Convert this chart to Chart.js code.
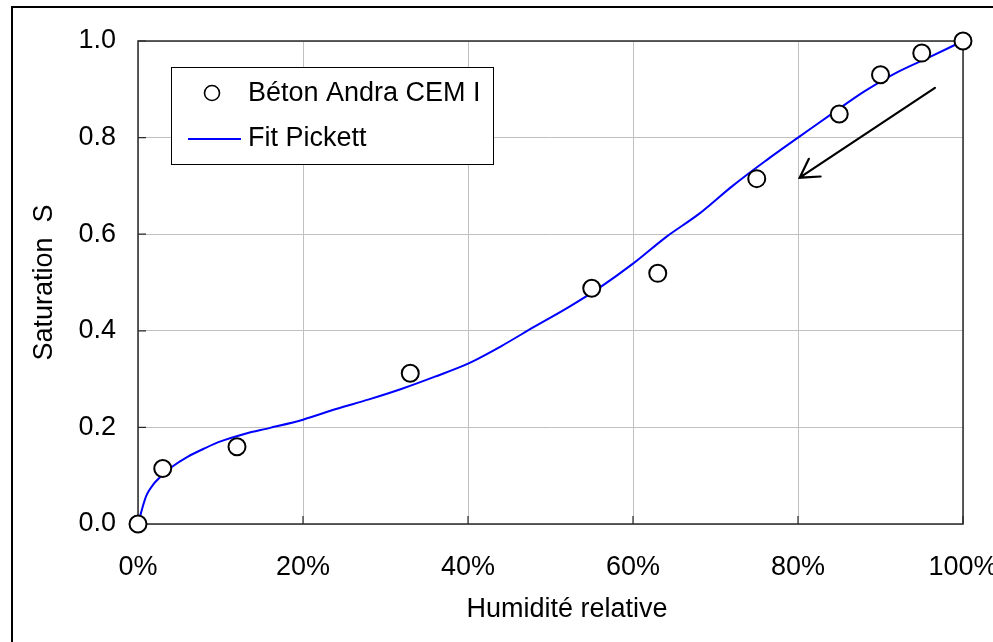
<!DOCTYPE html>
<html>
<head>
<meta charset="utf-8">
<script src="https://cdn.jsdelivr.net/npm/chart.js@4"></script>
<style>
  html, body { margin: 0; padding: 0; background: #fff; }
  canvas { display: block; }
</style>
</head>
<body>
<canvas id="chart" width="993" height="642"></canvas>
<script>
// Measured desorption isotherm (relative humidity in %, saturation degree)
const measuredRH = [0, 3, 12, 33, 55, 63, 75, 85, 90, 95, 100];
const measuredS  = [0, 0.115, 0.16, 0.312, 0.488, 0.519, 0.715, 0.849, 0.93, 0.975, 1.0];

// Pickett model fitted curve
const fitRH = [0, 1, 2, 3, 4, 6, 8, 10, 13, 16, 20, 24, 28, 32, 36, 40, 44, 48, 52, 56, 60, 64, 68, 72, 76, 80, 84, 88, 92, 96, 100];
const fitS  = [0, 0.058, 0.085, 0.102, 0.117, 0.139, 0.156, 0.171, 0.187, 0.199, 0.216, 0.238, 0.258, 0.28, 0.305, 0.332, 0.368, 0.408, 0.447, 0.49, 0.539, 0.594, 0.642, 0.699, 0.751, 0.80, 0.848, 0.895, 0.935, 0.967, 1.0];

// Axis ticks and titles
const xTicks = [0, 20, 40, 60, 80, 100];
const yTicks = [0, 0.2, 0.4, 0.6, 0.8, 1.0];
const xTitle = 'Humidité relative';
const yTitle = 'Saturation  S';

// Desorption direction arrow (from -> to, in data units)
const arrowFrom = [96.6, 0.903];
const arrowTo   = [80.2, 0.717];

const FONT = 'Liberation Sans, Arial, sans-serif';
const FSIZE = 27;
const TXT = '#000';

const pairs = (xs, ys) => xs.map((x, i) => ({ x: x, y: ys[i] }));

// Outer border of the figure
const outerFrame = {
  id: 'outerFrame',
  beforeDraw(chart) {
    const ctx = chart.ctx;
    ctx.save();
    ctx.strokeStyle = '#000';
    ctx.lineWidth = 2;
    ctx.beginPath();
    ctx.moveTo(12, chart.height + 2);
    ctx.lineTo(12, 7);
    ctx.lineTo(chart.width + 2, 7);
    ctx.stroke();
    ctx.restore();
  }
};

// Plot-area frame with inward tick marks, and the x-axis title
const plotFrame = {
  id: 'plotFrame',
  beforeDatasetsDraw(chart) {
    const { ctx, chartArea: a, scales } = chart;
    ctx.save();
    ctx.strokeStyle = '#2a2a2a';
    ctx.lineWidth = 1.5;
    ctx.strokeRect(a.left, a.top, a.right - a.left, a.bottom - a.top);
    ctx.lineWidth = 1.2;
    ctx.beginPath();
    xTicks.forEach(v => {
      const px = scales.x.getPixelForValue(v);
      ctx.moveTo(px, a.bottom);
      ctx.lineTo(px, a.bottom - 8);
    });
    yTicks.forEach(v => {
      const py = scales.y.getPixelForValue(v);
      ctx.moveTo(a.left, py);
      ctx.lineTo(a.left + 8, py);
    });
    ctx.stroke();

    ctx.fillStyle = TXT;
    ctx.font = FSIZE + 'px ' + FONT;
    ctx.textAlign = 'center';
    ctx.textBaseline = 'middle';
    ctx.fillText(xTitle, 567, 610);
    ctx.restore();
  }
};

// Legend box inside the plot area + direction arrow
const overlay = {
  id: 'overlay',
  afterDatasetsDraw(chart) {
    const { ctx, scales } = chart;
    const ds = chart.data.datasets;
    ctx.save();

    // legend box
    ctx.fillStyle = '#fff';
    ctx.fillRect(171, 67, 322, 97);
    ctx.strokeStyle = '#000';
    ctx.lineWidth = 1;
    ctx.strokeRect(171.5, 67.5, 322, 97);

    // marker entry
    ctx.beginPath();
    ctx.arc(212, 93, 7.5, 0, Math.PI * 2);
    ctx.fillStyle = '#fff';
    ctx.fill();
    ctx.lineWidth = 1.6;
    ctx.strokeStyle = '#000';
    ctx.stroke();

    // line entry
    ctx.beginPath();
    ctx.moveTo(188, 139);
    ctx.lineTo(241, 139);
    ctx.strokeStyle = ds[1].borderColor;
    ctx.lineWidth = 2;
    ctx.stroke();

    ctx.fillStyle = TXT;
    ctx.font = FSIZE + 'px ' + FONT;
    ctx.textAlign = 'left';
    ctx.textBaseline = 'middle';
    ctx.fillText(ds[0].label, 248, 94);
    ctx.fillText(ds[1].label, 248, 139);

    // arrow
    const x0 = scales.x.getPixelForValue(arrowFrom[0]);
    const y0 = scales.y.getPixelForValue(arrowFrom[1]);
    const x1 = scales.x.getPixelForValue(arrowTo[0]);
    const y1 = scales.y.getPixelForValue(arrowTo[1]);
    const ang = Math.atan2(y1 - y0, x1 - x0);
    const head = 21, spread = 0.53;
    ctx.strokeStyle = '#000';
    ctx.lineWidth = 2.2;
    ctx.lineCap = 'round';
    ctx.beginPath();
    ctx.moveTo(x0, y0);
    ctx.lineTo(x1, y1);
    ctx.moveTo(x1 - head * Math.cos(ang - spread), y1 - head * Math.sin(ang - spread));
    ctx.lineTo(x1, y1);
    ctx.lineTo(x1 - head * Math.cos(ang + spread), y1 - head * Math.sin(ang + spread));
    ctx.stroke();

    ctx.restore();
  }
};

new Chart(document.getElementById('chart').getContext('2d'), {
  type: 'scatter',
  data: {
    datasets: [
      {
        label: 'Béton Andra CEM I',
        data: pairs(measuredRH, measuredS),
        showLine: false,
        pointRadius: 8.5,
        pointBackgroundColor: '#fff',
        pointBorderColor: '#000',
        pointBorderWidth: 2,
        clip: false,
        order: 0
      },
      {
        label: 'Fit Pickett',
        data: pairs(fitRH, fitS),
        showLine: true,
        borderColor: '#0000ff',
        borderWidth: 2,
        pointRadius: 0,
        tension: 0.3,
        clip: false,
        order: 1
      }
    ]
  },
  options: {
    responsive: false,
    animation: false,
    devicePixelRatio: 1,
    layout: { padding: { left: 0, right: 30, top: 41, bottom: 0 } },
    plugins: { legend: { display: false }, tooltip: { enabled: false } },
    scales: {
      x: {
        type: 'linear',
        min: 0,
        max: 100,
        afterBuildTicks: s => { s.ticks = xTicks.map(v => ({ value: v })); },
        afterFit: s => { s.height = 118; s.paddingLeft = 0; s.paddingRight = 0; },
        ticks: {
          callback: v => v + '%',
          color: TXT,
          font: { family: FONT, size: FSIZE },
          padding: 27,
          maxRotation: 0,
          autoSkip: false
        },
        grid: { color: '#c0c0c0', lineWidth: 1, drawTicks: false },
        border: { display: false },
        title: { display: false }
      },
      y: {
        min: 0,
        max: 1,
        afterBuildTicks: s => { s.ticks = yTicks.map(v => ({ value: v })); },
        afterFit: s => { s.width = 138; },
        ticks: {
          callback: v => v.toFixed(1),
          color: TXT,
          font: { family: FONT, size: FSIZE },
          padding: 22,
          autoSkip: false
        },
        grid: { color: '#c0c0c0', lineWidth: 1, drawTicks: false },
        border: { display: false },
        title: {
          display: true,
          text: yTitle,
          color: TXT,
          font: { family: FONT, size: FSIZE },
          padding: { top: 28, bottom: 0 }
        }
      }
    }
  },
  plugins: [outerFrame, plotFrame, overlay]
});
</script>
</body>
</html>
